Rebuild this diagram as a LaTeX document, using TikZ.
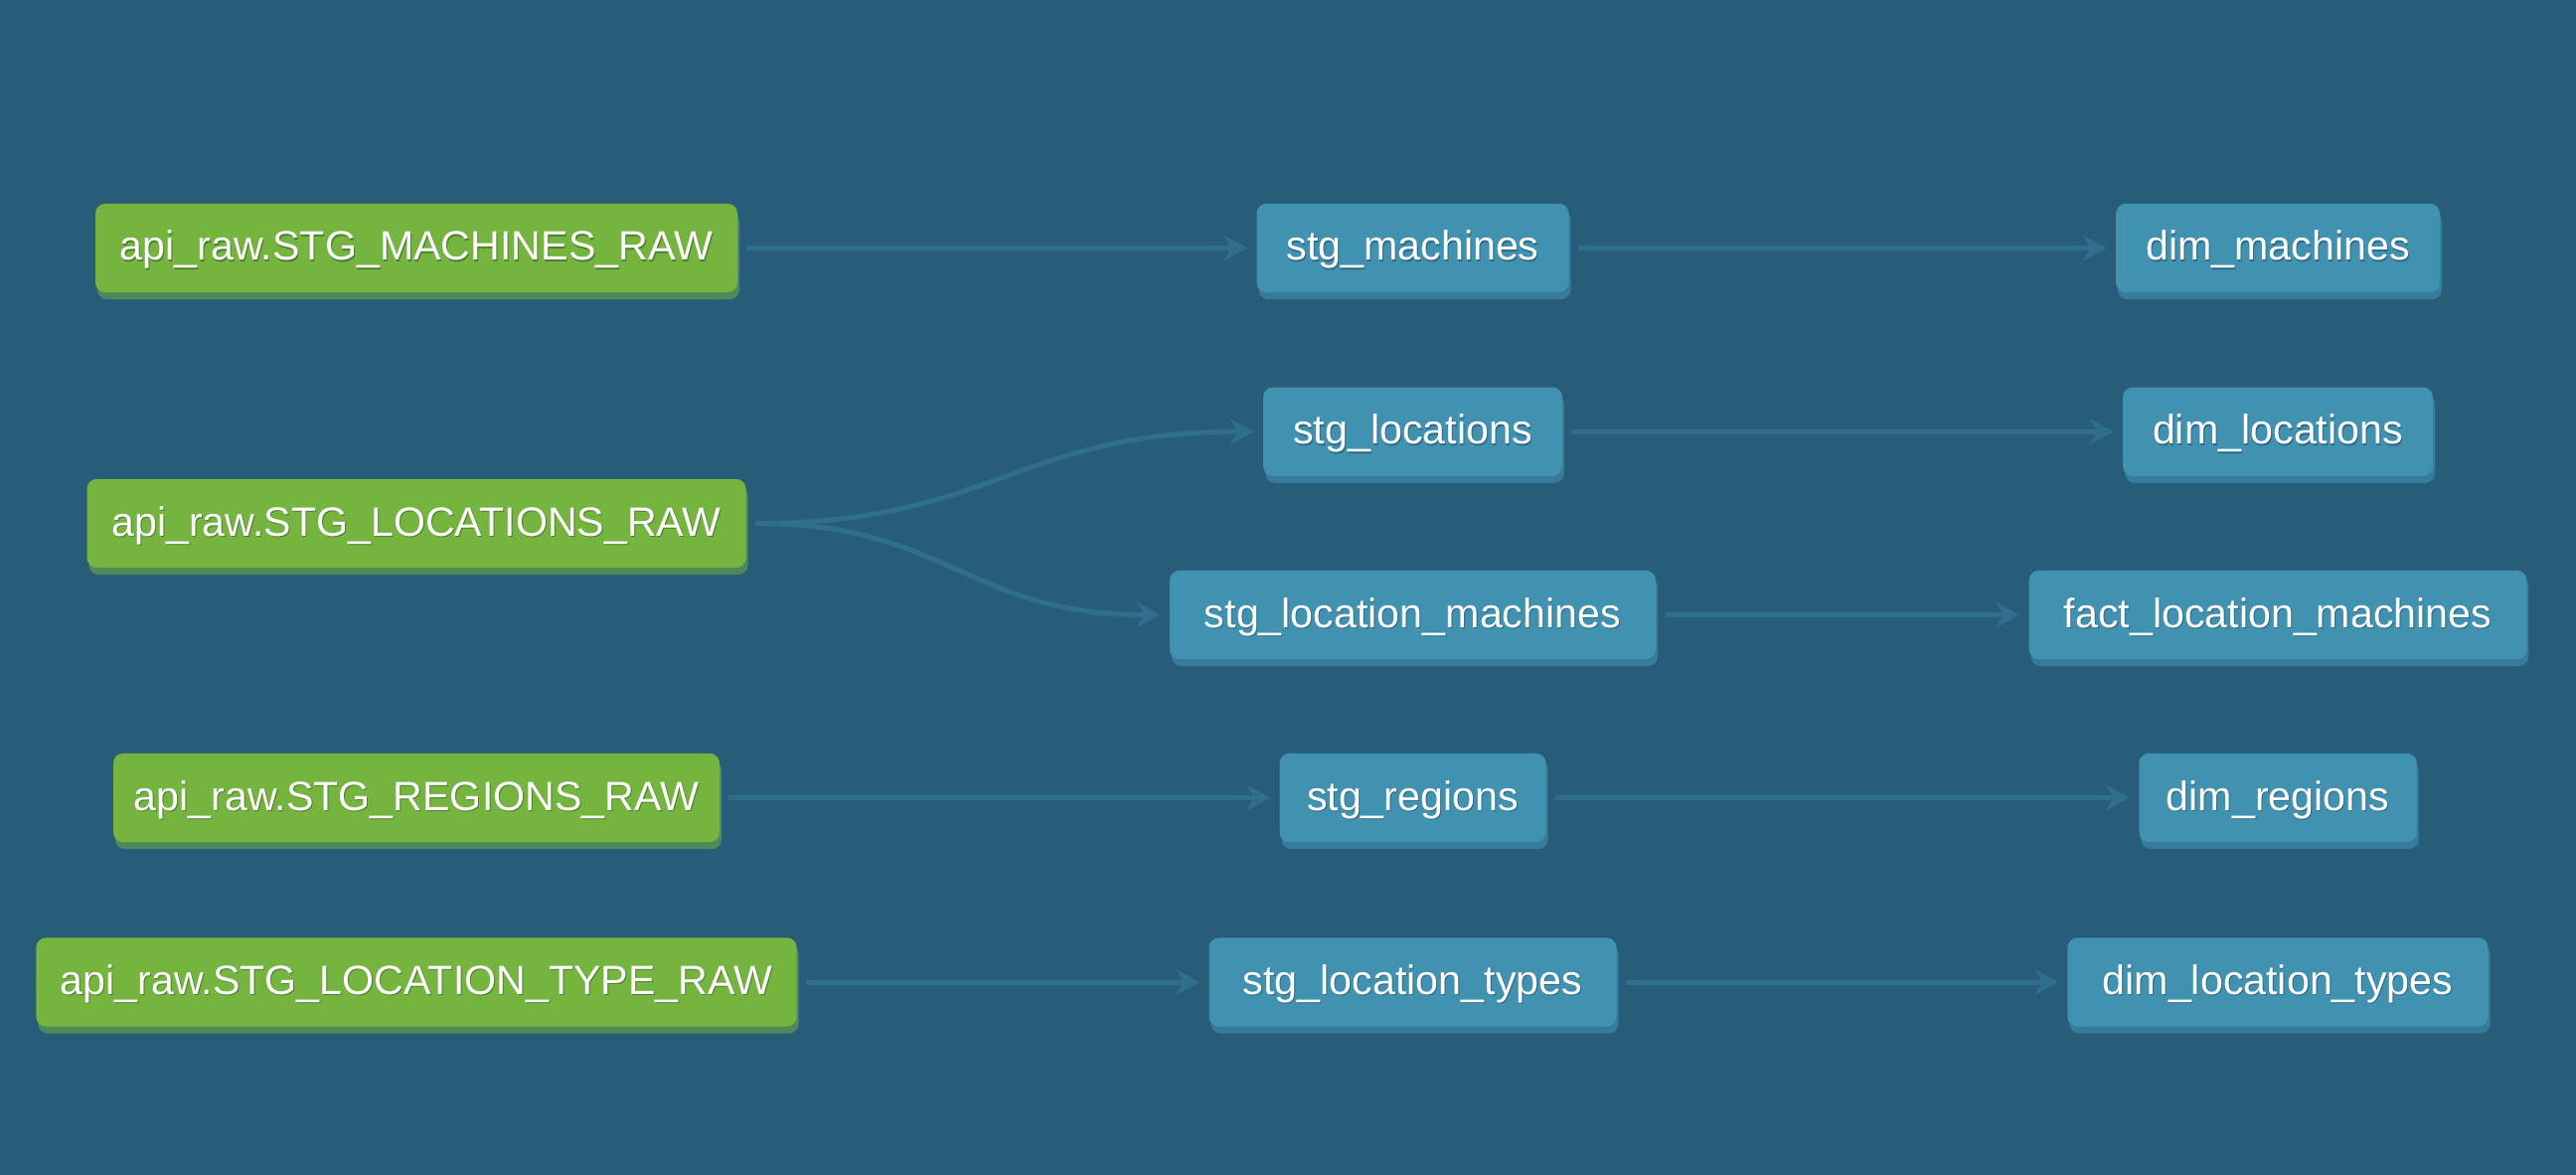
\documentclass[tikz,border=0pt]{standalone}
\usepackage{fontspec}
\setmainfont{Liberation Sans}
\usetikzlibrary{arrows.meta,shadows}
\definecolor{bg}{HTML}{275D79}
\definecolor{srcfill}{HTML}{74B43F}
\definecolor{srcshadow}{HTML}{4C8A5B}
\definecolor{srctext}{HTML}{4E7F2C}
\definecolor{mdlfill}{HTML}{4191B1}
\definecolor{mdlshadow}{HTML}{367B9B}
\definecolor{mdltext}{HTML}{2D6A85}
\definecolor{edgecol}{HTML}{2F6F8D}
\newcommand\shtxt[2]{\rlap{\kern0.5pt\raisebox{-0.7pt}{\textcolor{#2}{#1}}}#1}
\tikzset{
  basebox/.style={rounded corners=5pt, minimum height=44.7pt, inner xsep=8pt,
    inner ysep=0pt, text height=18pt, text depth=5.5pt,
    text=white, font=\fontsize{20.6}{24}\selectfont},
  srcbox/.style={basebox, fill=srcfill,
    general shadow={fill=srcshadow, shadow xshift=1pt, shadow yshift=-3.5pt}},
  mdlbox/.style={basebox, fill=mdlfill,
    general shadow={fill=mdlshadow, shadow xshift=1pt, shadow yshift=-3.5pt}},
  edge/.style={draw=edgecol, line width=2.5pt,
    -{Stealth[length=12pt, width=13pt, inset=4pt]},
    shorten <=4.5pt, shorten >=4.5pt, out=0, in=180, looseness=1.2}
}
\begin{document}
\begin{tikzpicture}[x=0.5pt,y=-0.5pt]
\fill[bg] (0,0) rectangle (2592,1182);
\useasboundingbox (0,0) rectangle (2592,1182);
% sources
\node[srcbox, minimum width=323pt]   (rawm)  at (419,249.5) {\shtxt{api\_raw.STG\_MACHINES\_RAW}{srctext}};
\node[srcbox, minimum width=331.5pt] (rawl)  at (419,526.5) {\shtxt{api\_raw.STG\_LOCATIONS\_RAW}{srctext}};
\node[srcbox, minimum width=305pt]   (rawr)  at (419,802.5) {\shtxt{api\_raw.STG\_REGIONS\_RAW}{srctext}};
\node[srcbox, minimum width=382.7pt] (rawt)  at (419,988)   {\shtxt{api\_raw.STG\_LOCATION\_TYPE\_RAW}{srctext}};
% staging
\node[mdlbox, minimum width=157pt]   (stgm)  at (1421.5,249.5) {\shtxt{stg\_machines}{mdltext}};
\node[mdlbox, minimum width=150.4pt] (stgl)  at (1421.5,434.2) {\shtxt{stg\_locations}{mdltext}};
\node[mdlbox, minimum width=244.6pt] (stglm) at (1421.5,618.5) {\shtxt{stg\_location\_machines}{mdltext}};
\node[mdlbox, minimum width=134pt]   (stgr)  at (1421.5,802.5) {\shtxt{stg\_regions}{mdltext}};
\node[mdlbox, minimum width=205pt]   (stgt)  at (1421.5,988)   {\shtxt{stg\_location\_types}{mdltext}};
% marts
\node[mdlbox, minimum width=163pt]   (dimm)  at (2292,249.5) {\shtxt{dim\_machines}{mdltext}};
\node[mdlbox, minimum width=156pt]   (diml)  at (2292,434.2) {\shtxt{dim\_locations}{mdltext}};
\node[mdlbox, minimum width=250.4pt] (factlm) at (2292,618.5) {\shtxt{fact\_location\_machines}{mdltext}};
\node[mdlbox, minimum width=139.7pt] (dimr)  at (2292,802.5) {\shtxt{dim\_regions}{mdltext}};
\node[mdlbox, minimum width=211.6pt] (dimt)  at (2292,988)   {\shtxt{dim\_location\_types}{mdltext}};
% edges
\draw[edge] (rawm.east) to (stgm.west);
\draw[edge] (rawl.east) to (stgl.west);
\draw[edge] (rawl.east) to (stglm.west);
\draw[edge] (rawr.east) to (stgr.west);
\draw[edge] (rawt.east) to (stgt.west);
\draw[edge] (stgm.east) to (dimm.west);
\draw[edge] (stgl.east) to (diml.west);
\draw[edge] (stglm.east) to (factlm.west);
\draw[edge] (stgr.east) to (dimr.west);
\draw[edge] (stgt.east) to (dimt.west);
\end{tikzpicture}
\end{document}
